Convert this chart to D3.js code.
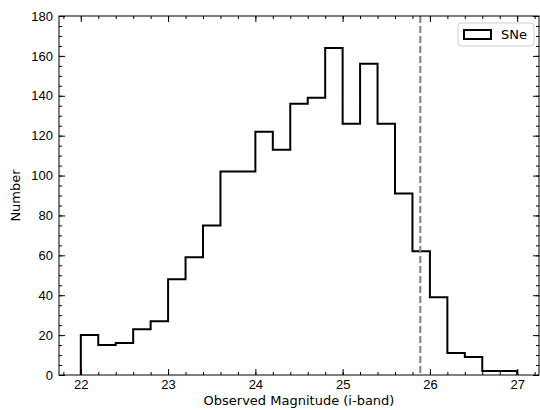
<!DOCTYPE html>
<html>
<head>
<meta charset="utf-8">
<script src="https://cdn.jsdelivr.net/npm/d3@7"></script>
<style>
  body { margin: 0; background: #fff; }
  svg { display: block; font-family: "DejaVu Sans", sans-serif; }
</style>
</head>
<body>
<div id="chart"></div>
<script>
// bin left edges (width 0.2) and counts
const binEdges = [22.0, 22.2, 22.4, 22.6, 22.8, 23.0, 23.2, 23.4, 23.6, 23.8, 24.0, 24.2, 24.4,
  24.6, 24.8, 25.0, 25.2, 25.4, 25.6, 25.8, 26.0, 26.2, 26.4, 26.6, 26.8];
const counts = [20, 15, 16, 23, 27, 48, 59, 75, 102, 102, 122, 113, 136,
  139, 164, 126, 156, 126, 91, 62, 39, 11, 9, 2, 2];
const binWidth = 0.2;
const xTicks = [22, 23, 24, 25, 26, 27];
const yTicks = [0, 20, 40, 60, 80, 100, 120, 140, 160, 180];
const cutLine = 25.89;
const seriesName = "SNe";

const W = 540, H = 410;
const margin = { top: 16, right: 1, bottom: 35, left: 59 };
const width = W - margin.left - margin.right;
const height = H - margin.top - margin.bottom;
const fs = 13;

const svg = d3.select("#chart").append("svg").attr("width", W).attr("height", H);
const g = svg.append("g").attr("transform", `translate(${margin.left},${margin.top})`);

const x = d3.scaleLinear().domain([21.75, 27.25]).range([0, width]);
const y = d3.scaleLinear().domain([0, 180]).range([height, 0]);

// step outline of the histogram
const pts = [[binEdges[0], 0]];
binEdges.forEach((e, i) => {
  pts.push([e, counts[i]]);
  pts.push([e + binWidth, counts[i]]);
});
pts.push([binEdges[binEdges.length - 1] + binWidth, 0]);

g.append("path")
  .datum(pts)
  .attr("fill", "none")
  .attr("stroke", "#000")
  .attr("stroke-width", 2)
  .attr("stroke-linejoin", "miter")
  .attr("d", d3.line().x(d => x(d[0])).y(d => y(d[1])));

// dashed cut line
g.append("line")
  .attr("x1", x(cutLine)).attr("x2", x(cutLine))
  .attr("y1", 0).attr("y2", height)
  .attr("stroke", "#808080")
  .attr("stroke-width", 2)
  .attr("stroke-dasharray", "7,3");

// axes with inward ticks on all sides
const xMinor = d3.range(21.8, 27.25, 0.2).map(v => +v.toFixed(1));
const yMinor = d3.range(0, 181, 5);

function styleAxis(sel) {
  sel.select(".domain").remove();
  sel.selectAll("line").attr("stroke", "#000").attr("stroke-width", 1);
  sel.selectAll("text").attr("font-size", fs).attr("fill", "#000");
}

g.append("g").attr("transform", `translate(0,${height})`)
  .call(d3.axisBottom(x).tickValues(xMinor).tickSize(-3).tickFormat(""))
  .call(styleAxis);
g.append("g").attr("transform", `translate(0,${height})`)
  .call(d3.axisBottom(x).tickValues(xTicks).tickSize(-6).tickPadding(5).tickFormat(d3.format("d")))
  .call(styleAxis);
g.append("g")
  .call(d3.axisTop(x).tickValues(xMinor).tickSize(-3).tickFormat(""))
  .call(styleAxis);
g.append("g")
  .call(d3.axisTop(x).tickValues(xTicks).tickSize(-6).tickFormat(""))
  .call(styleAxis);

g.append("g")
  .call(d3.axisLeft(y).tickValues(yMinor).tickSize(-3).tickFormat(""))
  .call(styleAxis);
g.append("g")
  .call(d3.axisLeft(y).tickValues(yTicks).tickSize(-6).tickPadding(6).tickFormat(d3.format("d")))
  .call(styleAxis);
g.append("g").attr("transform", `translate(${width},0)`)
  .call(d3.axisRight(y).tickValues(yMinor).tickSize(-3).tickFormat(""))
  .call(styleAxis);
g.append("g").attr("transform", `translate(${width},0)`)
  .call(d3.axisRight(y).tickValues(yTicks).tickSize(-6).tickFormat(""))
  .call(styleAxis);

// frame
g.append("rect")
  .attr("width", width).attr("height", height)
  .attr("fill", "none").attr("stroke", "#000").attr("stroke-width", 1);

// axis labels
svg.append("text")
  .attr("x", margin.left + x(24.5))
  .attr("y", 405)
  .attr("text-anchor", "middle")
  .attr("font-size", fs)
  .text("Observed Magnitude (i-band)");

svg.append("text")
  .attr("transform", `translate(20,${margin.top + height / 2}) rotate(-90)`)
  .attr("text-anchor", "middle")
  .attr("font-size", fs)
  .text("Number");

// legend
const lg = svg.append("g").attr("transform", "translate(458,23)");
lg.append("rect")
  .attr("width", 76).attr("height", 23).attr("rx", 3)
  .attr("fill", "#fff").attr("fill-opacity", 0.8)
  .attr("stroke", "#ccc").attr("stroke-width", 1);
lg.append("rect")
  .attr("x", 6).attr("y", 7).attr("width", 27).attr("height", 9)
  .attr("fill", "none").attr("stroke", "#000").attr("stroke-width", 2);
lg.append("text")
  .attr("x", 43).attr("y", 16)
  .attr("font-size", fs)
  .text(seriesName);
</script>
</body>
</html>
